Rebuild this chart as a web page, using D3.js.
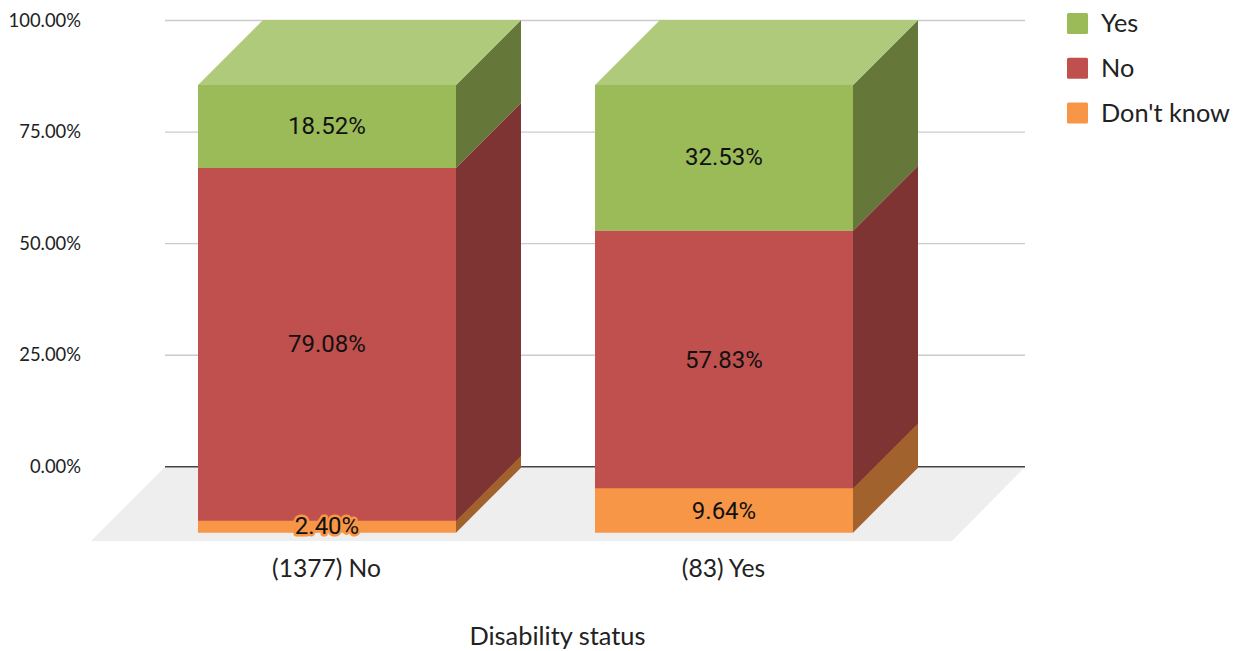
<!DOCTYPE html>
<html><head><meta charset="utf-8">
<style>html,body{margin:0;padding:0;background:#fff}svg{display:block}</style>
<script src="https://cdn.jsdelivr.net/npm/d3@7"></script></head><body>
<script>
const categories = ["(1377) No", "(83) Yes"];
const seriesNames = ["Don't know", "No", "Yes"];
const dontKnow = [2.40, 9.64];
const no = [79.08, 57.83];
const yes = [18.52, 32.53];
const tickLabels = [0, 25, 50, 75, 100];
const axisTitle = "Disability status";
const legendOrder = ["Yes", "No", "Don't know"];
const values = [dontKnow, no, yes];

const W = 1241, H = 651, depth = 65;
const colors = {"Yes":"#9bbb59","No":"#c0504d","Don't know":"#f79646"};
const side = {"Yes":"#657839","No":"#7d3432","Don't know":"#a1622e"};
const topColor = "#afca7b";
const sans = "Lato, Carlito, sans-serif";

const svg = d3.select("body").append("svg").attr("width",W).attr("height",H);
const y = d3.scaleLinear().domain([0,100]).range([532.7,85]);
const bx = d3.scalePoint().domain(categories).range([198,595]);
const bw = 258;

// floor
svg.append("polygon").attr("points",[[165,467],[1025,467],[952,541],[91,541]].map(p=>p.join(",")).join(" ")).attr("fill","#eeeeee");

// gridlines
const gy = d3.scaleLinear().domain([0,100]).range([466.8,20.5]);
svg.selectAll("line.g").data(tickLabels).join("line")
  .attr("x1",165).attr("x2",1025).attr("y1",d=>gy(d)).attr("y2",d=>gy(d))
  .attr("stroke",d=>d===0?"#444444":"#cbcbcb").attr("stroke-width",1.4);
svg.selectAll("text.t").data(tickLabels).join("text")
  .attr("x",81).attr("y",d=>gy(d)+6).attr("text-anchor","end")
  .attr("font-family",sans).attr("font-size",18.4).attr("fill","#222")
  .text(d=>d.toFixed(2)+"%");

const poly=(pts,fill)=>svg.append("polygon").attr("points",pts.map(p=>p.join(",")).join(" ")).attr("fill",fill);
const labels=[];
categories.forEach((c,i)=>{
  const x0=bx(c),x1=x0+bw;
  let acc=0;
  const segs=seriesNames.map((s,k)=>{
    const v=values[k][i], seg={s,v,yb:y(acc),yt:y(acc+v)};
    acc+=v;
    return seg;
  });
  // Upper segments first so the lowest band overlaps the boundary above it.
  segs.slice().reverse().forEach(g=>{
    const lift=g.s==="Don't know"?1.2:0;
    poly([[x1,g.yb],[x1+depth,g.yb-depth],[x1+depth,g.yt-depth-lift],[x1,g.yt-lift]],side[g.s]);
    poly([[x0,g.yb],[x1,g.yb],[x1,g.yt-lift],[x0,g.yt-lift]],colors[g.s]);
    labels.push({x:(x0+x1)/2,y:(g.yb+g.yt)/2,v:g.v,s:g.s,small:(g.yb-g.yt)<20});
  });
  const yt=y(100);
  poly([[x0,yt],[x1,yt],[x1+depth,yt-depth],[x0+depth,yt-depth]],topColor);
  svg.append("text").attr("x",x0+128.5).attr("y",577).attr("text-anchor","middle")
    .attr("font-family",sans).attr("font-size",24.6).attr("fill","#222").text(c);
});
labels.forEach(l=>{
  const t=svg.append("text").attr("x",l.x).attr("y",l.y+(l.small?7:7.5)).attr("text-anchor","middle")
   .attr("font-family","Roboto, sans-serif").attr("font-size",24).attr("fill","#111").text(l.v.toFixed(2)+"%");
  if(l.small) t.attr("stroke",colors[l.s]).attr("stroke-width",5).attr("stroke-linejoin","round").attr("paint-order","stroke");
});
svg.append("text").attr("x",557.5).attr("y",645).attr("text-anchor","middle")
  .attr("font-family",sans).attr("font-size",25.4).attr("fill","#222").text(axisTitle);

const ly=d3.scalePoint().domain(legendOrder).range([23,112.5]);
legendOrder.forEach(s=>{
  svg.append("rect").attr("x",1067).attr("y",ly(s)-10).attr("width",21).attr("height",21).attr("rx",1.5).attr("fill",colors[s]);
  svg.append("text").attr("x",1101).attr("y",ly(s)+9).attr("font-family",sans).attr("font-size",25.3).attr("fill","#222").text(s);
});
</script></body></html>
